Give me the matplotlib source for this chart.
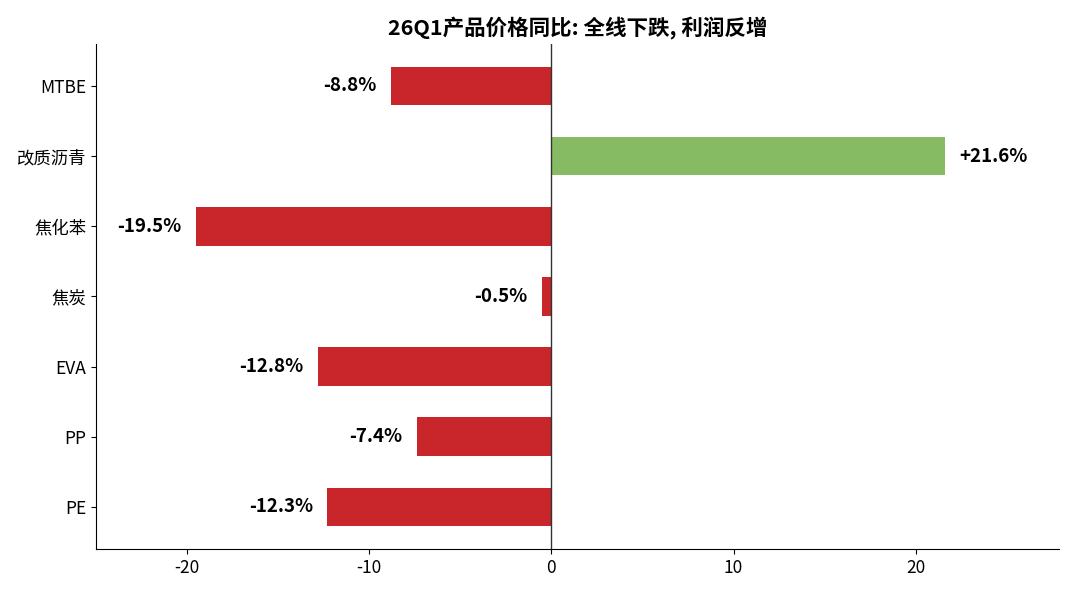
import matplotlib
matplotlib.use('Agg')
import matplotlib.pyplot as plt

plt.rcParams['font.family'] = ['Noto Sans CJK SC', 'DejaVu Sans']
plt.rcParams['axes.unicode_minus'] = False

# 数据
products = ['MTBE', '改质沥青', '焦化苯', '焦炭', 'EVA', 'PP', 'PE']
yoy = [-8.8, 21.6, -19.5, -0.5, -12.8, -7.4, -12.3]
title = '26Q1产品价格同比: 全线下跌, 利润反增'

red = '#C8262A'
green = '#86BB63'
colors = [green if v > 0 else red for v in yoy]

fig = plt.figure(figsize=(10.8, 6), dpi=100)
ax = fig.add_axes([0.089, 0.085, 0.892, 0.842])

ypos = list(range(len(products)))[::-1]
ax.barh(ypos, yoy, height=0.55, color=colors)
ax.axvline(0, color='#333333', linewidth=1.0)

for y, v in zip(ypos, yoy):
    txt = f'{v:+.1f}%'
    if v < 0:
        ax.text(v - 0.8, y, txt, ha='right', va='center', fontsize=13.5, fontweight='bold')
    else:
        ax.text(v + 0.8, y, txt, ha='left', va='center', fontsize=13.5, fontweight='bold')

ax.set_yticks(ypos)
ax.set_yticklabels(products, fontsize=12.5)
ax.set_xticks([-20, -10, 0, 10, 20])
ax.tick_params(axis='x', labelsize=12.5)
ax.set_xlim(-25, 27.9)
ax.set_ylim(-0.6, 6.6)
ax.spines['top'].set_visible(False)
ax.spines['right'].set_visible(False)
ax.set_title(title, fontsize=15.5, fontweight='bold', pad=6)

plt.savefig('out.png', dpi=100)
